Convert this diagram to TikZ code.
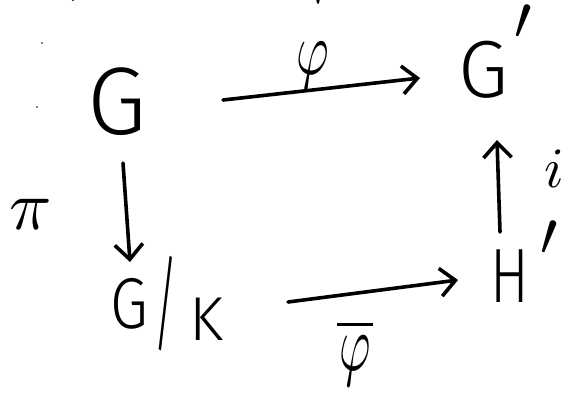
\documentclass[tikz,border=0pt]{standalone}
\usepackage{fontspec}
\usetikzlibrary{arrows.meta}
\newfontfamily\hand{Fira Sans Light}
\tikzset{
  lab/.style={inner sep=0pt, outer sep=0pt, anchor=base west},
  arr/.style={line width=3.6pt, line cap=round, line join=round,
    -{Straight Barb[length=15pt,width=28pt]}},
  speck/.style={fill=black, draw=none},
}
\newcommand{\hprime}{\scalebox{2.5}{$\prime$}}
\begin{document}
\begin{tikzpicture}[x=1pt,y=-1pt]
\fill[white] (0,0) rectangle (572,392);
\useasboundingbox (0,0) rectangle (572,392);
% objects
\node[lab] (G) at (87,134) {\hand\fontsize{96}{96}\selectfont G};
\node[lab] (Gp) at (458,97) {\hand\fontsize{81}{81}\selectfont G\hspace{6pt}\raisebox{58pt}{\hprime}};
\node[lab] (GK) at (110,328) {\hand\fontsize{72}{72}\selectfont\scalebox{0.85}[1]{G}\hspace{6pt}\raisebox{-12pt}{\fontsize{105}{105}\selectfont\scalebox{0.45}[1]{/}}\hspace{11pt}\raisebox{-12pt}{\fontsize{62}{62}\selectfont K}};
\node[lab] (Hp) at (490,302) {\hand\fontsize{77}{77}\selectfont\scalebox{0.75}[1]{H}\hspace{12pt}\raisebox{47pt}{\hprime}};
% arrows
\draw[arr] ([shift={(136,-34)}]G.base west) -- ([shift={(-38,-19)}]Gp.base west);
\draw[arr] ([shift={(36,29)}]G.base west) -- ([shift={(20,-66)}]GK.base west);
\draw[arr] ([shift={(10,-70)}]Hp.base west) -- ([shift={(39,43)}]Gp.base west);
\draw[arr] ([shift={(178,-26)}]GK.base west) -- ([shift={(-32,-22)}]Hp.base west);
% labels
\node[inner sep=0pt, anchor=south] (phi) at (313,89) {\scalebox{5}[7.5]{$\varphi$}};
\node[inner sep=0pt] (phib) at (355,353) {\scalebox{8}{$\overline{\hbox to 4.6pt{\hss\scalebox{0.6}[1]{$\varphi$}\hss}}$}};
\node[inner sep=0pt] (pi) at (31,214) {\scalebox{7}{$\pi$}};
\node[inner sep=0pt] (i) at (554,169) {\scalebox{5.7}{$i$}};
% specks
\fill[speck] (318,0) ellipse (1.6 and 4);
\fill[speck] (73,0) ellipse (1.2 and 1);
\fill[speck] (42,43) circle (0.8);
\fill[speck] (37,107) circle (0.8);
\end{tikzpicture}
\end{document}
